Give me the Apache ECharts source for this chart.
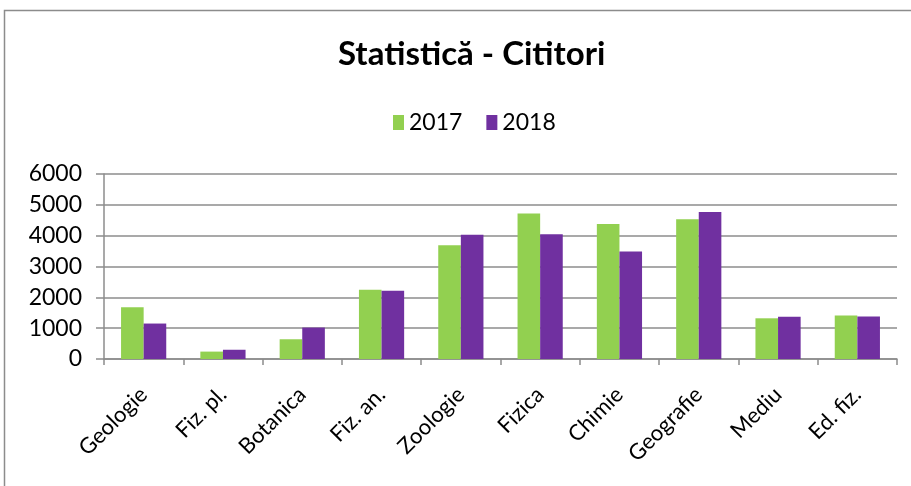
<!DOCTYPE html>
<html>
<head>
<meta charset="utf-8">
<script src="https://cdn.jsdelivr.net/npm/echarts@6/dist/echarts.min.js"></script>
<style>
	html, body { margin: 0; padding: 0; background: #fff; }
	#chart { width: 911px; height: 486px; }
</style>
</head>
<body>
<div id="chart"></div>
<script>
'use strict';
var categories = ['Geologie', 'Fiz. pl.', 'Botanica', 'Fiz. an.', 'Zoologie', 'Fizica', 'Chimie', 'Geografie', 'Mediu', 'Ed. fiz.'];
var values2017 = [1680, 240, 640, 2250, 3690, 4720, 4380, 4530, 1320, 1410];
var values2018 = [1150, 300, 1020, 2210, 4030, 4050, 3490, 4770, 1370, 1380];
var seriesNames = ['2017', '2018'];
var colors = ['#92d050', '#7030a0'];

var font = 'Lato, "Open Sans", sans-serif';
var chart = echarts.init(document.getElementById('chart'));

chart.setOption({
	backgroundColor: '#fff',
	animation: false,
	color: colors,
	// chart frame, like the spreadsheet border
	graphic: [{
		type: 'rect',
		shape: { x: 4.5, y: 10.5, width: 920, height: 490 },
		style: { fill: 'none', stroke: '#8c8c8c', lineWidth: 1.5 },
		silent: true
	}],
	title: {
		text: 'Statistică - Cititori',
		left: 333,
		top: 33,
		textStyle: { fontFamily: font, fontWeight: 'bold', fontSize: 33, color: '#000' }
	},
	legend: {
		data: seriesNames,
		top: 106,
		left: 388,
		itemWidth: 11,
		itemHeight: 15,
		itemGap: 24,
		icon: 'rect',
		textStyle: { fontFamily: font, fontSize: 23, color: '#000' }
	},
	grid: { left: 104, right: 14, top: 174, bottom: 127, containLabel: false },
	xAxis: {
		type: 'category',
		data: categories,
		axisLine: { lineStyle: { color: '#8c8c8c', width: 1.5 } },
		axisTick: { show: true, length: 6, lineStyle: { color: '#8c8c8c', width: 1.5 } },
		axisLabel: {
			rotate: 45,
			interval: 0,
			margin: 32,
			fontFamily: font,
			fontSize: 22,
			color: '#000'
		}
	},
	yAxis: {
		type: 'value',
		min: 0,
		max: 6000,
		interval: 1000,
		axisLine: { show: true, lineStyle: { color: '#8c8c8c', width: 1.5 } },
		axisTick: { show: true, length: 8, lineStyle: { color: '#8c8c8c', width: 1.5 } },
		splitLine: { lineStyle: { color: '#8c8c8c', width: 1.5 } },
		axisLabel: {
			margin: 22,
			fontFamily: font,
			fontSize: 23,
			color: '#000',
			formatter: function (v) { return String(v); }
		}
	},
	series: [
		{ name: seriesNames[0], type: 'bar', data: values2017, barGap: '0%', barCategoryGap: '43%' },
		{ name: seriesNames[1], type: 'bar', data: values2018, barGap: '0%', barCategoryGap: '43%' }
	]
});
</script>
</body>
</html>
